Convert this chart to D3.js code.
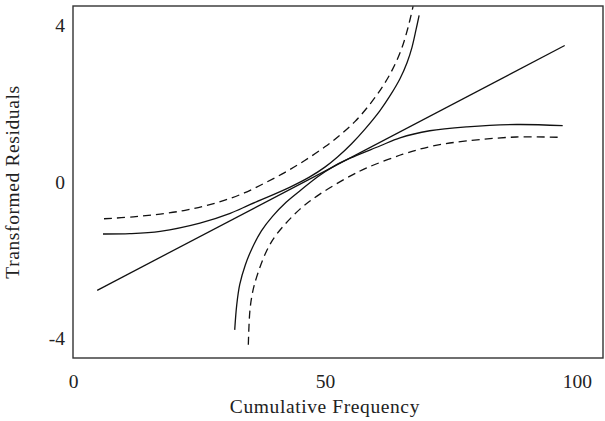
<!DOCTYPE html>
<html>
<head>
<meta charset="utf-8">
<script src="https://cdn.jsdelivr.net/npm/d3@7"></script>
<style>
  body { margin: 0; background: #fff; }
  text { font-family: "Liberation Serif", "DejaVu Serif", serif; fill: #222; }
</style>
</head>
<body>
<div id="chart"></div>
<script>
// fitted straight line
const lineX = [4.8, 97.6];
const lineY = [-2.77, 3.49];

// upper solid band (flat on the left, steep on the right)
const upperSolidX = [5.95, 11.3, 17.3, 25.2, 31.2, 35.1, 43.1, 47.0, 50.0, 52.5, 55.3, 58.0, 60.9, 63.0, 64.9, 66.3, 67.3, 68.1, 68.7];
const upperSolidY = [-1.33, -1.32, -1.26, -1.05, -0.80, -0.58, -0.13, 0.13, 0.38, 0.64, 0.98, 1.36, 1.82, 2.22, 2.64, 3.05, 3.45, 3.90, 4.26];

// lower solid band (steep on the left, flat on the right)
const lowerSolidX = [32.1, 32.5, 33.1, 34.2, 35.6, 37.4, 39.6, 42.3, 45.3, 48.5, 52.0, 55.0, 60.9, 64.9, 70.8, 78.2, 88.1, 97.2];
const lowerSolidY = [-3.78, -3.14, -2.62, -2.12, -1.68, -1.25, -0.88, -0.52, -0.20, 0.13, 0.42, 0.61, 0.92, 1.13, 1.31, 1.41, 1.47, 1.44];

// upper dashed band
const upperDashX = [6.15, 12, 17.3, 22, 26, 30, 34, 38, 42, 46, 50, 53, 56, 59, 61.5, 63.5, 65.2, 66.5, 67.5];
const upperDashY = [-0.94, -0.89, -0.82, -0.73, -0.62, -0.47, -0.28, -0.03, 0.24, 0.55, 0.90, 1.20, 1.55, 2.00, 2.45, 2.90, 3.40, 3.95, 4.49];

// lower dashed band
const lowerDashX = [34.8, 35.1, 35.6, 36.4, 38.4, 40.4, 45.0, 49.0, 55.0, 58.3, 65.5, 71.4, 78.1, 88.0, 97.2];
const lowerDashY = [-4.16, -3.31, -2.85, -2.45, -1.77, -1.34, -0.70, -0.31, 0.15, 0.36, 0.71, 0.92, 1.05, 1.15, 1.14];

const xTicks = [0, 50, 100];
const yTicks = [-4, 0, 4];

const W = 605, H = 421;
const margin = { top: 6, right: 2, bottom: 63, left: 73 };
const width = W - margin.left - margin.right,
    height = H - margin.top - margin.bottom;

const svg = d3.select("#chart")
    .append("svg")
    .attr("width", W)
    .attr("height", H);

const g = svg.append("g")
    .attr("transform", `translate(${margin.left},${margin.top})`);

const x = d3.scaleLinear().domain([0, 105.2]).range([0, width]);
const y = d3.scaleLinear().domain([-4.5, 4.5]).range([height, 0]);

const fontSize = 19.5;

// axes: labels only, no tick marks
g.append("g")
    .attr("transform", `translate(0,${height})`)
    .call(d3.axisBottom(x).tickValues(xTicks).tickFormat(d => String(d)).tickSize(0).tickPadding(16))
    .call(a => a.select(".domain").remove())
    .selectAll("text")
    .attr("font-size", fontSize)
    .attr("font-family", "Liberation Serif")
    .attr("fill", "#222");

g.append("g")
    .call(d3.axisLeft(y).tickValues(yTicks).tickFormat(d => String(d)).tickSize(0).tickPadding(8))
    .call(a => a.select(".domain").remove())
    .selectAll("text")
    .attr("font-size", fontSize)
    .attr("font-family", "Liberation Serif")
    .attr("fill", "#222");

// frame
g.append("rect")
    .attr("width", width)
    .attr("height", height)
    .attr("fill", "none")
    .attr("stroke", "#333")
    .attr("stroke-width", 1.4);

const line = d3.line()
    .x(d => x(d[0]))
    .y(d => y(d[1]))
    .curve(d3.curveCatmullRom.alpha(0.5));

const series = [
    { xs: lineX, ys: lineY, dash: null },
    { xs: upperSolidX, ys: upperSolidY, dash: null },
    { xs: lowerSolidX, ys: lowerSolidY, dash: null },
    { xs: upperDashX, ys: upperDashY, dash: "8,5" },
    { xs: lowerDashX, ys: lowerDashY, dash: "8,5" }
];

g.selectAll(".curve")
    .data(series)
    .join("path")
    .attr("class", "curve")
    .attr("d", s => line(s.xs.map((v, i) => [v, s.ys[i]])))
    .attr("fill", "none")
    .attr("stroke", "#111")
    .attr("stroke-width", 1.3)
    .attr("stroke-dasharray", s => s.dash);

// axis titles
svg.append("text")
    .attr("x", margin.left + x(50))
    .attr("y", 413)
    .attr("text-anchor", "middle")
    .attr("font-size", fontSize)
    .attr("letter-spacing", 0.6)
    .text("Cumulative Frequency");

svg.append("text")
    .attr("transform", `translate(19,${margin.top + y(0)}) rotate(-90)`)
    .attr("text-anchor", "middle")
    .attr("font-size", fontSize)
    .attr("letter-spacing", 0.6)
    .text("Transformed Residuals");
</script>
</body>
</html>
